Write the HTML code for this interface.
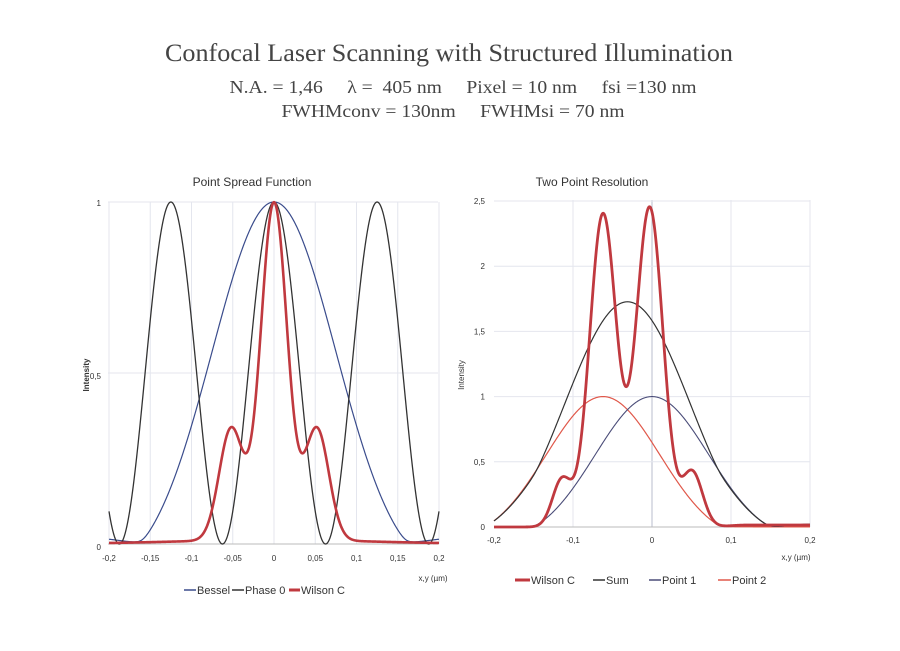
<!DOCTYPE html>
<html><head><meta charset="utf-8"><style>
body{margin:0;background:#fff;}
svg{display:block}
</style></head><body>
<svg id="s" width="900" height="651" xmlns="http://www.w3.org/2000/svg" font-family="Liberation Sans, sans-serif">
<rect width="900" height="651" fill="#fff"/>
<g font-family="Liberation Serif, serif" fill="#444" text-anchor="middle">
<text x="449" y="61" font-size="25.5" textLength="568" lengthAdjust="spacingAndGlyphs">Confocal Laser Scanning with Structured Illumination</text>
<text x="463" y="93" font-size="17.5" xml:space="preserve" textLength="467" lengthAdjust="spacingAndGlyphs">N.A. = 1,46     λ =  405 nm     Pixel = 10 nm     fsi =130 nm</text>
<text x="453" y="117" font-size="17.5" xml:space="preserve" textLength="343" lengthAdjust="spacingAndGlyphs">FWHMconv = 130nm     FWHMsi = 70 nm</text>
</g>
<g id="g"></g>
</svg>
<script>
const NS="http://www.w3.org/2000/svg",G=document.getElementById('g');
function el(t,a,txt){const e=document.createElementNS(NS,t);for(const k in a)e.setAttribute(k,a[k]);if(txt!==undefined)e.textContent=txt;G.appendChild(e);return e;}
function g(x,s){return Math.exp(-x*x/(2*s*s));}
function sm(a,b,x){const t=Math.min(1,Math.max(0,(x-a)/(b-a)));return t*t*(3-2*t);}
function path(f,X,Y,col,w){let d='';for(let i=0;i<=800;i++){const x=-0.2+0.4*i/800;d+=(i?'L':'M')+X(x).toFixed(2)+','+Y(f(x)).toFixed(2);}el('path',{d:d,fill:'none',stroke:col,'stroke-width':w,'stroke-linejoin':'round'});}
const bs=x=>{const a=Math.abs(x);const u=g(x,0.075)-0.1;const v=(u+Math.sqrt(u*u+0.0003))/2/0.9;return v+0.016*sm(0.15,0.22,a);};
const bs2=x=>{const u=g(x,0.072)-0.12;return (u+Math.sqrt(u*u+0.0004))/2/0.88;};
// Left chart
{const X=x=>274+(x)*(438-108)/0.4, Y=v=>544-v*342;
for(let t=-0.2;t<=0.2001;t+=0.05)el('line',{x1:X(t),x2:X(t),y1:202,y2:544,stroke:'#e4e6ee','stroke-width':1});
[0.5,1].forEach(v=>el('line',{x1:108,x2:438,y1:Y(v),y2:Y(v),stroke:'#e4e6ee'}));
el('line',{x1:108,x2:438,y1:544,y2:544,stroke:'#bbb'});
el('text',{x:252,y:186,'font-size':12,'text-anchor':'middle',fill:'#333'},'Point Spread Function');
[['1',203],['0,5',376],['0',547]].forEach(a=>el('text',{x:101,y:a[1]+3,'font-size':8,'text-anchor':'end',fill:'#333'},a[0]));
['-0,2','-0,15','-0,1','-0,05','0','0,05','0,1','0,15','0,2'].forEach((s,i)=>el('text',{x:X(-0.2+0.05*i),y:561,'font-size':8,'text-anchor':'middle',fill:'#333'},s));
el('text',{x:0,y:0,'font-size':8,'font-weight':'bold','text-anchor':'middle',fill:'#333',transform:'translate(89,375) rotate(-90)'},'Intensity');
el('text',{x:433,y:581,'font-size':8,'text-anchor':'middle',fill:'#333'},'x,y (µm)');
const ph=x=>Math.pow(Math.cos(Math.PI*x/0.125),2);
const wil=x=>(g(x,0.016)+0.33*g(Math.abs(x)-0.052,0.0145)+0.012*g(x,0.12))/1.013;
path(bs,X,Y,'#3a4c8c',1.2);path(ph,X,Y,'#333',1.3);path(wil,X,Y,'#c0393f',2.6);
el('line',{x1:184,x2:196,y1:590,y2:590,stroke:'#3a4c8c','stroke-width':1.5});
el('text',{x:197,y:594,'font-size':11,fill:'#333'},'Bessel');
el('line',{x1:232,x2:244,y1:590,y2:590,stroke:'#333','stroke-width':1.5});
el('text',{x:245,y:594,'font-size':11,fill:'#333'},'Phase 0');
el('line',{x1:289,x2:300,y1:590,y2:590,stroke:'#c0393f','stroke-width':3});
el('text',{x:301,y:594,'font-size':11,fill:'#333'},'Wilson C');
}
// Right chart
{const X=x=>652+x*(810-494)/0.4, Y=v=>527-v*130.4;
[-0.1,0.1,0.2].forEach(t=>el('line',{x1:X(t),x2:X(t),y1:200,y2:527,stroke:'#e4e6ee'}));
el('line',{x1:X(0),x2:X(0),y1:200,y2:527,stroke:'#b8bccc'});
[0.5,1,1.5,2,2.5].forEach(v=>el('line',{x1:494,x2:810,y1:Y(v),y2:Y(v),stroke:'#e4e6ee'}));
el('line',{x1:494,x2:810,y1:527,y2:527,stroke:'#bbb'});
el('text',{x:592,y:186,'font-size':12,'text-anchor':'middle',fill:'#333'},'Two Point Resolution');
['0','0,5','1','1,5','2','2,5'].forEach((s,i)=>el('text',{x:485,y:Y(i*0.5)+3,'font-size':8,'text-anchor':'end',fill:'#333'},s));
['-0,2','-0,1','0','0,1','0,2'].forEach((s,i)=>el('text',{x:X(-0.2+0.1*i),y:543,'font-size':8,'text-anchor':'middle',fill:'#333'},s));
el('text',{x:0,y:0,'font-size':8,'text-anchor':'middle',fill:'#333',transform:'translate(464,375) rotate(-90)'},'Intensity');
el('text',{x:796,y:560,'font-size':8,'text-anchor':'middle',fill:'#333'},'x,y (µm)');
const p1=x=>bs2(x)+0.02*sm(0.15,0.2,x), p2=x=>bs2(x+0.062), su=x=>(p1(x)+p2(x))*0.96;
const w=x=>2.4*g(x+0.062,0.017)+2.45*g(x+0.003,0.017)+0.36*g(x+0.114,0.012)+0.42*g(x-0.051,0.013)+0.015*sm(0.07,0.12,x);
path(p2,X,Y,'#e0584a',1.2);path(p1,X,Y,'#4a4c78',1.1);path(su,X,Y,'#333',1.2);path(w,X,Y,'#c0393f',2.8);
el('line',{x1:515,x2:530,y1:580,y2:580,stroke:'#c0393f','stroke-width':3});
el('text',{x:531,y:584,'font-size':11,fill:'#333'},'Wilson C');
el('line',{x1:593,x2:605,y1:580,y2:580,stroke:'#333','stroke-width':1.5});
el('text',{x:606,y:584,'font-size':11,fill:'#333'},'Sum');
el('line',{x1:649,x2:661,y1:580,y2:580,stroke:'#4a4c78','stroke-width':1.5});
el('text',{x:662,y:584,'font-size':11,fill:'#333'},'Point 1');
el('line',{x1:718,x2:731,y1:580,y2:580,stroke:'#e0584a','stroke-width':1.5});
el('text',{x:732,y:584,'font-size':11,fill:'#333'},'Point 2');
}
</script>
</body></html>
